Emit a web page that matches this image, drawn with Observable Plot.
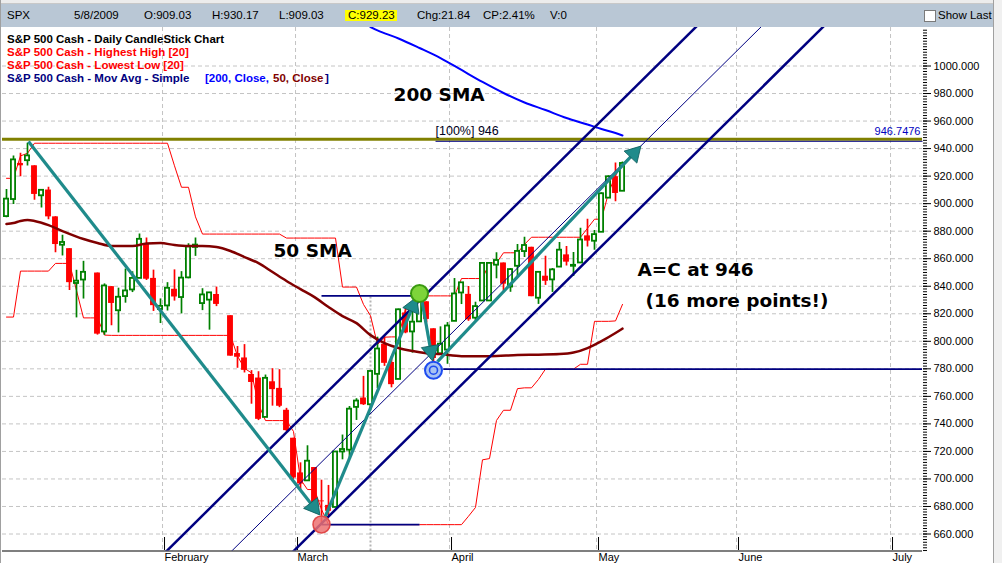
<!DOCTYPE html>
<html><head><meta charset="utf-8">
<script src="https://cdn.jsdelivr.net/npm/d3@7"></script>
<script src="https://cdn.jsdelivr.net/npm/@observablehq/plot@0.6"></script>
<style>
html,body{margin:0;padding:0;background:#fff;}
#wrap{position:relative;width:1002px;height:563px;overflow:hidden;font-family:"Liberation Sans",Arial,sans-serif;background:#fff;}
#chart{position:absolute;left:0;top:0;width:1002px;height:563px;}
.abs{position:absolute;white-space:nowrap;line-height:12px;}
#topstrip{left:0;top:0;width:1002px;height:3px;background:#ececec;border-bottom:1px solid #c8c8c8;}
#hdr{left:1px;top:4px;width:992px;height:23px;background:#b9c7d5;}
.h{font-size:11.5px;color:#000;top:9.3px;}
.lg{font-size:11.5px;font-weight:bold;}
#rstrip{left:993px;top:0;width:9px;height:563px;background:#f0f0f0;border-left:1px solid #a0a0a0;}
#lstrip{left:0;top:0;width:1px;height:563px;background:#a0a0a0;}
#cbox{left:924px;top:10px;width:10px;height:10px;background:#fff;border:1px solid #7a7a7a;}
#cval{left:345px;top:10px;width:52px;height:11px;background:#ffff00;}
</style></head>
<body>
<div id="wrap">
  <div id="chart"></div>
  <div class="abs" id="topstrip"></div>
  <div class="abs" id="hdr"></div>
  <div class="abs" id="cval"></div>
  <div class="abs h" style="left:7px">SPX</div>
  <div class="abs h" style="left:74px">5/8/2009</div>
  <div class="abs h" style="left:144px">O:909.03</div>
  <div class="abs h" style="left:212px">H:930.17</div>
  <div class="abs h" style="left:279px">L:909.03</div>
  <div class="abs h" style="left:348px">C:929.23</div>
  <div class="abs h" style="left:417px">Chg:21.84</div>
  <div class="abs h" style="left:483px">CP:2.41%</div>
  <div class="abs h" style="left:550px">V:0</div>
  <div class="abs" id="cbox"></div>
  <div class="abs h" style="left:938px">Show Last</div>
  <div class="abs lg" style="left:7px;top:32.7px;color:#000">S&amp;P 500 Cash - Daily CandleStick Chart</div>
  <div class="abs lg" style="left:7px;top:45.7px;color:#ff0000">S&amp;P 500 Cash - Highest High [20]</div>
  <div class="abs lg" style="left:7px;top:58.7px;color:#ff0000">S&amp;P 500 Cash - Lowest Low [20]</div>
  <div class="abs lg" style="left:7px;top:71.7px;color:#000080">S&amp;P 500 Cash - Mov Avg - Simple</div>
  <div class="abs lg" style="left:205px;top:71.7px;color:#0000ff">[200, Close,</div>
  <div class="abs lg" style="left:273px;top:71.7px;color:#800000">50, Close</div>
  <div class="abs lg" style="left:325px;top:71.7px;color:#000080">]</div>
  <div class="abs" id="rstrip"></div>
  <div class="abs" id="lstrip"></div>
</div>
<script>
// ---------- DATA ----------
// bar slots run from firstSlot upward, one per trading bar
const firstSlot = -1;
const opens = [890.6,903.0,929.2,931.2,927.5,905.7,909.9,890.4,869.8,867.3,842.0,844.5,850.1,849.6,806.8,839.7,822.2,832.5,837.3,845.7,871.0,845.7,823.1,825.7,837.8,831.8,846.1,868.2,827.4,829.9,834.0,826.8,818.6,791.1,787.9,775.9,773.3,744.7,770.6,765.8,749.9,729.6,704.4,698.6,708.3,684.0,680.8,679.3,719.6,720.9,752.0,758.8,753.9,776.0,797.9,784.6,772.3,820.6,806.8,814.1,828.7,809.1,790.9,793.6,814.5,835.1,834.1,816.8,829.3,829.3,855.3,856.9,839.4,854.5,865.2,868.3,831.3,847.3,844.6,853.9,862.8,854.5,856.9,876.6,872.7,879.2,904.0,919.6,909.0];
const highs = [910.3,934.7,936.6,943.9,927.5,910.0,911.9,890.4,877.0,867.3,851.6,858.1,850.1,849.6,841.7,839.7,838.6,852.5,850.5,877.9,875.0,851.7,830.8,842.6,851.9,850.6,870.8,875.0,838.2,835.5,839.4,826.8,818.6,796.2,797.6,778.7,777.9,775.5,780.1,779.4,751.3,729.6,711.7,724.1,708.3,699.1,695.3,719.6,731.9,752.6,758.3,774.5,778.1,803.0,803.2,788.9,823.4,823.7,826.8,833.0,828.7,809.1,810.5,813.6,845.6,842.5,839.8,828.4,856.9,856.9,864.3,856.9,852.9,870.4,875.6,868.3,850.1,861.8,852.9,871.8,868.8,864.5,882.1,888.7,880.5,907.9,920.3,929.6,930.2];
const lows = [889.7,899.4,919.5,927.3,902.4,896.8,888.3,864.3,862.0,836.9,817.0,830.7,850.1,804.5,804.3,811.3,806.1,827.7,835.4,845.7,844.2,821.7,812.9,822.0,829.2,819.9,845.4,861.7,822.3,808.1,825.2,826.8,789.2,780.4,777.0,754.3,742.4,744.7,752.9,751.8,734.5,699.7,692.3,698.6,677.9,666.8,672.9,679.3,713.9,714.8,742.5,753.4,749.9,765.6,781.8,766.2,772.3,805.5,791.4,814.1,813.4,779.8,790.9,783.3,814.5,826.7,814.5,814.8,829.3,829.3,845.4,836.3,835.6,847.0,860.9,832.4,826.8,840.6,835.5,853.9,854.7,847.1,856.9,868.5,866.1,879.2,904.0,901.4,909.0];
const closes = [903.3,931.8,927.5,934.7,906.7,909.7,890.4,870.3,871.8,842.6,843.7,850.1,850.1,805.2,840.2,827.5,832.0,836.6,845.7,874.1,845.1,825.9,825.4,838.5,832.2,845.9,868.6,869.9,833.7,835.2,826.8,826.8,789.2,788.4,778.9,770.1,743.3,773.1,764.9,752.8,735.1,700.8,696.3,712.9,682.6,683.4,676.5,719.6,721.4,750.7,756.6,753.9,778.1,794.4,784.0,768.5,822.9,806.1,813.9,832.9,815.9,787.5,797.9,811.1,834.4,842.5,815.6,825.2,856.6,856.6,858.7,841.5,852.1,865.3,869.6,832.4,850.1,843.6,851.9,866.2,857.5,855.2,873.6,872.8,877.5,907.2,919.5,907.4,929.2];
// Highest High [20] and Lowest Low [20], one value per bar slot
const highestHigh = [918.4,918.4,934.7,936.6,943.9,943.9,943.9,943.9,943.9,943.9,943.9,943.9,943.9,943.9,943.9,943.9,943.9,943.9,943.9,943.9,943.9,943.9,943.9,943.9,927.5,911.9,911.9,890.4,877.9,877.9,877.9,877.9,877.9,877.9,877.9,877.9,877.9,877.9,877.9,877.9,875.0,875.0,875.0,875.0,875.0,875.0,875.0,875.0,839.4,839.4,839.4,826.8,818.6,797.6,803.0,803.2,803.2,823.4,823.7,826.8,833.0,833.0,833.0,833.0,833.0,845.6,845.6,845.6,845.6,856.9,856.9,864.3,864.3,864.3,870.4,875.6,875.6,875.6,875.6,875.6,875.6,875.6,875.6,882.1,888.7,888.7,907.9,920.3,929.6];
const lowestLow = [817.6,817.6,851.0,851.0,851.0,851.0,851.0,856.6,856.6,856.6,836.9,817.0,817.0,817.0,804.5,804.3,804.3,804.3,804.3,804.3,804.3,804.3,804.3,804.3,804.3,804.3,804.3,804.3,804.3,804.3,804.3,804.3,804.3,789.2,780.4,777.0,754.3,742.4,742.4,742.4,742.4,734.5,699.7,692.3,692.3,677.9,666.8,666.8,666.8,666.8,666.8,666.8,666.8,666.8,666.8,666.8,666.8,666.8,666.8,666.8,666.8,666.8,666.8,666.8,666.8,666.8,672.9,679.3,713.9,714.8,742.5,749.9,749.9,765.6,766.2,766.2,772.3,779.8,779.8,779.8,779.8,779.8,783.3,783.3,814.5,814.5,814.5,814.8,826.8];
// 50-day SMA read at selected slots
const sma50Slots = [-1,0,1,2,3,5,7,10,12,14,17,19,21,23,25,27,29,31,33,35,37,39,41,43,45,47,49,51,53,55,57,59,61,64,68,72,75,78,80,82,84,86,87];
const sma50Vals  = [885.2,885.9,887.4,888.1,887.4,884.4,880.1,874.3,871.4,869.2,869.2,871.0,871.4,869.9,869.2,869.2,868.5,865.6,861.2,856.8,850.3,843.8,837.9,832.1,824.9,818.3,813.2,804.5,798.7,795.1,792.9,791.4,790.7,789.2,789.2,790.0,790.3,790.7,791.8,795.1,800.1,806.0,809.2];
// 200-day SMA read at selected slots
const sma200Slots = [51,52,55,58,61,64,67,70,73,76,79,82,84,86,87];
const sma200Vals  = [1028.3,1025.9,1020.0,1013.1,1005.8,997.1,988.4,980.4,973.5,968.0,962.2,957.5,954.2,951.3,949.5];
// month labels and their slot positions
const monthLabels = ["February","March","April","May","June","July"];
const monthSlots  = [21.29,40.29,62.29,83.29,103.29,125.29];
// price axis tick labels
const yTicks = [660,680,700,720,740,760,780,800,820,840,860,880,900,920,940,960,980,1000];
// drawing tools: trend channel (three parallel lines) [slot1, value1, slot2, value2]
const channelNames = ["upper","middle","lower"];
const channelX1 = [21.0, 30.29, 39.14];
const channelY1 = [643.2, 643.2, 643.2];
const channelX2 = [98.14, 107.43, 116.29];
const channelY2 = [1031.6, 1031.6, 1031.6];
// A-B-C-D arrows (start and tip)
const arrowX1 = [2.14, 44.43, 58.29, 60.57];
const arrowY1 = [945.2, 671.3, 831.1, 785.3];
const arrowX2 = [43.71, 57.57, 59.86, 89.57];
const arrowY2 = [674.2, 831.8, 786.1, 941.5];
// pivot points A, B, C
const pivotLabels = ["A","B","C"];
const pivotSlots  = [44, 58, 60];
const pivotVals   = [667.0, 834.7, 779.0];
// horizontal levels [slotStart, slotEnd, value]
const levelX1 = [44, 44, 61.4];
const levelX2 = [58.1, 58.0, 129.86];
const levelV  = [833.0, 666.8, 779.8];
const targetLevel = 946.7476;

// ---------- BUILD ----------
const xDomain = [-1.571, 129.857], yDomain = [647.66, 1027.97];
const frameW = 920, frameH = 523.5;
const kx = frameW / (xDomain[1] - xDomain[0]);   // px per slot
const ky = frameH / (yDomain[1] - yDomain[0]);   // px per point
const candles = opens.map((o, i) => ({slot: firstSlot + i, open: o, high: highs[i], low: lows[i], close: closes[i], up: closes[i] >= o}));
const upC = candles.filter(d => d.up), dnC = candles.filter(d => !d.up);
const hh = highestHigh.map((v, i) => ({slot: firstSlot + i, v}));
const ll = lowestLow.map((v, i) => ({slot: firstSlot + i, v}));
const s50 = sma50Slots.map((s, i) => ({slot: s, v: sma50Vals[i]}));
const s200 = sma200Slots.map((s, i) => ({slot: s, v: sma200Vals[i]}));
const channel = channelNames.map((n, i) => ({n, x1: channelX1[i], y1: channelY1[i], x2: channelX2[i], y2: channelY2[i]}));
const headBack = 9.5; // px from tip to triangle centroid
const arrows = arrowX1.map((x, i) => {
  const sx = (arrowX2[i] - x) * kx, sy = -(arrowY2[i] - arrowY1[i]) * ky;
  const len = Math.hypot(sx, sy), ux = sx / len, uy = sy / len;
  const hx = arrowX2[i] - headBack * ux / kx, hy = arrowY2[i] + headBack * uy / ky;
  return {x1: x, y1: arrowY1[i], hx, hy, rot: Math.atan2(ux, -uy) * 180 / Math.PI};
});
const pivots = pivotLabels.map((l, i) => ({l, slot: pivotSlots[i], v: pivotVals[i]}));
const levels = levelX1.map((x, i) => ({x1: x, x2: levelX2[i], v: levelV[i]}));
const minor = d3.range(648, 1028, 2);
const teal = "#1f8b8b", navy = "#000080";
const bold = "DejaVu Sans";

const chart = Plot.plot({
  width: 1002, height: 563,
  marginLeft: 2, marginRight: 80, marginTop: 27, marginBottom: 12.5,
  x: {domain: xDomain, axis: null},
  y: {domain: yDomain, axis: null},
  style: {fontFamily: "Liberation Sans, Arial, sans-serif", fontSize: "11px", background: "transparent", overflow: "visible"},
  marks: [
    Plot.ruleY(yTicks, {stroke: "#c4c4c4", strokeDasharray: "4,3"}),
    Plot.ruleX(monthSlots, {stroke: "#c4c4c4", strokeDasharray: "4,3"}),
    Plot.ruleX([51], {y1: yDomain[0], y2: 833.0, stroke: "#b4b4b4", strokeWidth: 2, strokeDasharray: "2,2"}),
    Plot.ruleY([yDomain[0]], {stroke: "#000", strokeWidth: 1.2}),
    Plot.axisX({ticks: monthSlots, tickFormat: d => monthLabels[monthSlots.indexOf(d)], tickSize: 13, tickPadding: 3, textAnchor: "start", dx: 2, dy: -13.5, fontSize: 11, color: "#000"}),
    Plot.axisY({anchor: "right", ticks: yTicks, tickFormat: d => d.toFixed(3), tickSize: 8, tickPadding: 3, fontSize: 11, color: "#000"}),
    Plot.axisY({anchor: "right", ticks: minor, tickSize: 4, tickFormat: () => "", color: "#000"}),
    Plot.line(hh, {x: "slot", y: "v", stroke: "#ff0000", strokeWidth: 1, clip: true}),
    Plot.line(ll, {x: "slot", y: "v", stroke: "#ff0000", strokeWidth: 1, clip: true}),
    // candles
    Plot.ruleX(upC, {x: "slot", y1: "low", y2: "high", stroke: "#008000", strokeWidth: 1.7, clip: true}),
    Plot.ruleX(dnC, {x: "slot", y1: "low", y2: "high", stroke: "#ff0000", strokeWidth: 1.7, clip: true}),
    Plot.rect(dnC, {x1: d => d.slot - 0.42, x2: d => d.slot + 0.42, y1: "open", y2: "close", fill: "#ff0000", clip: true}),
    Plot.rect(upC, {x1: d => d.slot - 0.3, x2: d => d.slot + 0.3, y1: "open", y2: "close", fill: "#fff", stroke: "#008000", strokeWidth: 1.8, clip: true}),
    // moving averages
    Plot.line(s50, {x: "slot", y: "v", stroke: "#800000", strokeWidth: 2.5, curve: "monotone-x", clip: true}),
    Plot.line(s200, {x: "slot", y: "v", stroke: "#0000ff", strokeWidth: 2, curve: "monotone-x", clip: true}),
    // target level
    Plot.ruleY([targetLevel], {stroke: "#808000", strokeWidth: 3}),
    Plot.link([targetLevel], {x1: 60.29, x2: xDomain[1], y1: d => d, y2: d => d, dy: 2, stroke: navy, strokeWidth: 1}),
    // channel
    Plot.link(channel, {x1: "x1", y1: "y1", x2: "x2", y2: "y2", stroke: navy, strokeWidth: d => d.n === "middle" ? 1 : 2.5, clip: true}),
    // levels
    Plot.link(levels, {x1: "x1", x2: "x2", y1: "v", y2: "v", stroke: navy, strokeWidth: 1.6, clip: true}),
    // arrows: shaft + filled triangular head
    Plot.link(arrows, {x1: "x1", y1: "y1", x2: "hx", y2: "hy", stroke: teal, strokeWidth: 3.2, clip: true}),
    Plot.dot(arrows, {x: "hx", y: "hy", symbol: "triangle", r: 6.5, rotate: "rot", fill: teal, stroke: "#0d5e5e", strokeWidth: 0.8}),
    // pivots
    Plot.dot(pivots.filter(d => d.l === "A"), {x: "slot", y: "v", r: 8.5, fill: "#ec7272", fillOpacity: 0.85, stroke: "#e04848", strokeWidth: 1.5}),
    Plot.dot(pivots.filter(d => d.l === "B"), {x: "slot", y: "v", r: 8.5, fill: "#7ed43a", stroke: "#3a9a10", strokeWidth: 2}),
    Plot.dot(pivots.filter(d => d.l === "C"), {x: "slot", y: "v", r: 8.5, fill: "#a9c3f2", stroke: "#1e4cf0", strokeWidth: 2}),
    Plot.dot(pivots.filter(d => d.l === "C"), {x: "slot", y: "v", r: 4, fill: "none", stroke: "#1e4cf0", strokeWidth: 1.6}),
    // labels
    Plot.text(["[100%] 946"], {x: 60.29, y: 949.9, text: d => d, textAnchor: "start", lineAnchor: "bottom", fontSize: 12.5, fill: "#000020"}),
    Plot.text(["946.7476"], {x: 129.57, y: 950.2, text: d => d, textAnchor: "end", lineAnchor: "bottom", fontSize: 11, fill: "#0000c0"}),
    Plot.text(["200 SMA"], {x: 54.29, y: 974.4, text: d => d, textAnchor: "start", lineAnchor: "bottom", fontSize: 18.5, fontWeight: "bold", fontFamily: bold, fill: "#000"}),
    Plot.text(["50 SMA"], {x: 37.14, y: 860.9, text: d => d, textAnchor: "start", lineAnchor: "bottom", fontSize: 18.5, fontWeight: "bold", fontFamily: bold, fill: "#000"}),
    Plot.text(["A=C at 946"], {x: 89.14, y: 847.1, text: d => d, textAnchor: "start", lineAnchor: "bottom", fontSize: 18.5, fontWeight: "bold", fontFamily: bold, fill: "#000"}),
    Plot.text(["(16 more points!)"], {x: 90.29, y: 824.9, text: d => d, textAnchor: "start", lineAnchor: "bottom", fontSize: 18.5, fontWeight: "bold", fontFamily: bold, fill: "#000"})
  ]
});
document.getElementById("chart").appendChild(chart);
</script>
</body></html>
